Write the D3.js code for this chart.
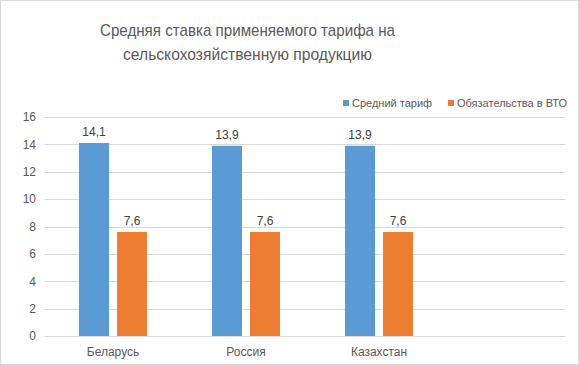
<!DOCTYPE html>
<html>
<head>
<meta charset="utf-8">
<script src="https://cdn.jsdelivr.net/npm/d3@7"></script>
<style>
  body { margin: 0; background: #fff; }
  svg { display: block; font-family: "Liberation Sans", Arial, sans-serif; }
</style>
</head>
<body>
<div id="chart"></div>
<script>
// data
var categories = ["Беларусь", "Россия", "Казахстан"];
var seriesNames = ["Средний тариф", "Обязательства в ВТО"];
var avgTariff = [14.1, 13.9, 13.9];
var wtoBound = [7.6, 7.6, 7.6];
var yTicks = [0, 2, 4, 6, 8, 10, 12, 14, 16];
var titleLines = ["Средняя ставка применяемого тарифа на", "сельскохозяйственную продукцию"];

var colors = ["#5B9BD5", "#ED7D31"];
var width = 579, height = 365;
var plot = {left: 46.5, right: 565, top: 117, bottom: 336};
var titleWidths = [295, 249];

var svg = d3.select("#chart").append("svg")
    .attr("width", width)
    .attr("height", height);

// outer border
svg.append("rect")
    .attr("x", 0.5).attr("y", 0.5)
    .attr("width", width - 1).attr("height", height - 1)
    .attr("fill", "#fff")
    .attr("stroke", "#d9d9d9");

var x0 = d3.scaleBand()
    .domain(categories)
    .range([plot.left, plot.left + 133 * categories.length]);

var x1 = d3.scaleBand()
    .domain(seriesNames)
    .range([0, 68])
    .paddingInner(8 / 38);

var y = d3.scaleLinear()
    .domain([0, 16])
    .range([plot.bottom, plot.top]);

// gridlines
svg.append("g").selectAll("line")
    .data(yTicks)
    .enter().append("line")
    .attr("x1", plot.left - 2)
    .attr("x2", plot.right)
    .attr("y1", function(d) { return Math.round(y(d)) + 0.5; })
    .attr("y2", function(d) { return Math.round(y(d)) + 0.5; })
    .attr("stroke", "#d9d9d9")
    .attr("stroke-width", 1);

// y axis labels
var yAxis = d3.axisLeft(y).tickValues(yTicks).tickSize(0).tickPadding(0);
var gy = svg.append("g")
    .attr("transform", "translate(36,0)")
    .call(yAxis);
gy.select(".domain").remove();
gy.selectAll("text")
    .attr("fill", "#595959")
    .style("font-size", "12px")
    .style("font-family", "Liberation Sans, Arial, sans-serif");

// bars
var rows = categories.map(function(c, i) {
  return {cat: c, vals: [avgTariff[i], wtoBound[i]]};
});

var groups = svg.append("g").selectAll("g")
    .data(rows)
    .enter().append("g")
    .attr("transform", function(d) {
      return "translate(" + (x0(d.cat) + (x0.bandwidth() - 68) / 2) + ",0)";
    });

groups.selectAll("rect")
    .data(function(d) { return d.vals.map(function(v, j) { return {s: seriesNames[j], v: v, j: j}; }); })
    .enter().append("rect")
    .attr("x", function(d) { return x1(d.s); })
    .attr("width", x1.bandwidth())
    .attr("y", function(d) { return y(d.v); })
    .attr("height", function(d) { return y(0) - y(d.v); })
    .attr("fill", function(d) { return colors[d.j]; });

groups.selectAll("text")
    .data(function(d) { return d.vals.map(function(v, j) { return {s: seriesNames[j], v: v}; }); })
    .enter().append("text")
    .attr("x", function(d) { return x1(d.s) + x1.bandwidth() / 2; })
    .attr("y", function(d) { return y(d.v) - 7; })
    .attr("text-anchor", "middle")
    .attr("fill", "#404040")
    .style("font-size", "12px")
    .text(function(d) { return d3.format(".1f")(d.v).replace(".", ","); });

// category labels
var xAxis = d3.axisBottom(x0).tickSize(0).tickPadding(0);
var gx = svg.append("g")
    .attr("transform", "translate(0," + 347 + ")")
    .call(xAxis);
gx.select(".domain").remove();
gx.selectAll("text")
    .attr("fill", "#595959")
    .style("font-size", "12px")
    .style("font-family", "Liberation Sans, Arial, sans-serif");

// title
svg.append("g").selectAll("text")
    .data(titleLines)
    .enter().append("text")
    .attr("x", 247.5)
    .attr("y", function(d, i) { return 36 + i * 24; })
    .attr("text-anchor", "middle")
    .attr("fill", "#595959")
    .attr("textLength", function(d, i) { return titleWidths[i]; })
    .attr("lengthAdjust", "spacingAndGlyphs")
    .style("font-size", "17px")
    .text(function(d) { return d; });

// legend
var legendX = [343, 448];
var legend = svg.append("g").selectAll("g")
    .data(seriesNames)
    .enter().append("g")
    .attr("transform", function(d, i) { return "translate(" + legendX[i] + ",99)"; });
legend.append("rect")
    .attr("width", 6).attr("height", 6)
    .attr("y", 1)
    .attr("fill", function(d, i) { return colors[i]; });
legend.append("text")
    .attr("x", 9)
    .attr("y", 8)
    .attr("fill", "#595959")
    .style("font-size", "11px")
    .text(function(d) { return d; });
</script>
</body>
</html>
